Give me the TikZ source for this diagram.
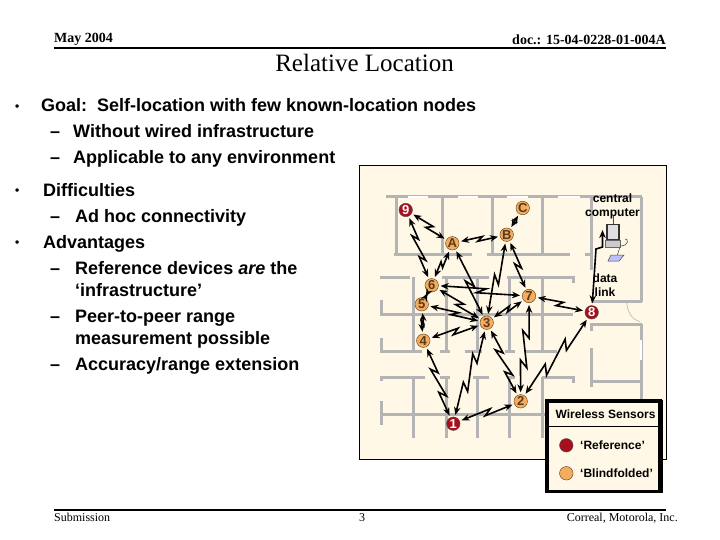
\documentclass[tikz,border=0pt]{standalone}
\usepackage{fontspec}
\setmainfont{Liberation Serif}
\setsansfont{Liberation Sans}
\usetikzlibrary{arrows.meta,calc}
\definecolor{paper}{HTML}{FFF8E6}
\definecolor{wallgray}{HTML}{B4B4B4}
\definecolor{refred}{HTML}{A80F1E}
\definecolor{blindorange}{HTML}{F4AC5E}
\definecolor{nodeedge}{HTML}{5A3A1A}
\tikzset{
  wall/.style={draw=wallgray, line width=3pt},
  pane/.style={draw=white, line width=2.4pt},
  refnode/.style={
    circle, draw=black!70, fill=refred, text=white, inner sep=0pt,
    minimum size=13.5pt, font=\sffamily\bfseries\fontsize{13}{13}\selectfont
  },
  blindnode/.style={
    circle, draw=nodeedge, fill=blindorange, text=nodeedge, inner sep=0pt,
    minimum size=13.5pt, font=\sffamily\bfseries\fontsize{13}{13}\selectfont
  },
  link/.style={
    {Stealth[length=8pt,width=6.5pt]}-{Stealth[length=8pt,width=6.5pt]},
    line width=1.6pt, draw=black, miter limit=6, shorten >=2pt, shorten <=2pt
  },
  zap/.style={link, to path={
    -- ($(\tikztostart)!0.56!(\tikztotarget)!#1!90:(\tikztotarget)$)
    -- ($(\tikztostart)!0.46!(\tikztotarget)!-#1!90:(\tikztotarget)$)
    -- (\tikztotarget)}},
  zapp/.style={link, to path={
    -- ($(\tikztostart)!0.40!(\tikztotarget)!#1!90:(\tikztotarget)$)
    -- ($(\tikztostart)!0.33!(\tikztotarget)!-#1!90:(\tikztotarget)$)
    -- ($(\tikztostart)!0.68!(\tikztotarget)!#1!90:(\tikztotarget)$)
    -- ($(\tikztostart)!0.61!(\tikztotarget)!-#1!90:(\tikztotarget)$)
    -- (\tikztotarget)}},
  head/.style={anchor=base west, font=\bfseries\fontsize{14}{14}\selectfont, inner sep=0pt},
  foot/.style={anchor=base west, font=\fontsize{12}{12}\selectfont, inner sep=0pt},
  body/.style={anchor=base west, font=\sffamily\bfseries\fontsize{18}{18}\selectfont, inner sep=0pt},
  dot/.style={anchor=base west, font=\sffamily\bfseries\fontsize{12}{12}\selectfont, inner sep=0pt},
  note/.style={align=center, font=\sffamily\bfseries\fontsize{12}{14}\selectfont, inner sep=0pt},
  key/.style={anchor=west, font=\sffamily\bfseries\fontsize{12}{12}\selectfont, inner sep=0pt}
}
\begin{document}
\begin{tikzpicture}[x=1pt,y=-1pt]
  \useasboundingbox (0,0) rectangle (720,540);
  % header and footer
  \node[head] (date) at (54,43) {May 2004};
  \node[head, anchor=base east] (doc) at (666,45) {doc.: 15-04-0228-01-004A};
  \draw[line width=2pt] (54,48) -- (666,48);
  \node[anchor=base, inner sep=0pt, font=\fontsize{25}{25}\selectfont] (title) at (364.5,72) {Relative Location};
  \draw[line width=2pt] (54,510) -- (666,510);
  \node[foot] (sub) at (54,521) {Submission};
  \node[foot] (page) at (359,521) {3};
  \node[foot, anchor=base east] (who) at (678,521) {Correal, Motorola, Inc.};
  % text column
  \node[dot] (b1) at (15,110.5) {•};
  \node[body] (t1) at (41,111.5) {Goal:\ \ Self-location with few known-location nodes};
  \node[body] (d1) at (50,137.5) {–};
  \node[body] (t2) at (73,137.5) {Without wired infrastructure};
  \node[body] (d2) at (50,163.5) {–};
  \node[body] (t3) at (73,163.5) {Applicable to any environment};
  \node[dot] (b2) at (15,194.5) {•};
  \node[body] (t4) at (43,196.5) {Difficulties};
  \node[body] (d3) at (50,222.5) {–};
  \node[body] (t5) at (75,222.5) {Ad hoc connectivity};
  \node[dot] (b3) at (15,246.5) {•};
  \node[body] (t6) at (43,248.5) {Advantages};
  \node[body] (d4) at (50,274.5) {–};
  \node[body] (t7) at (75,274.5) {Reference devices \textit{are} the};
  \node[body] (t8) at (75,296.5) {‘infrastructure’};
  \node[body] (d5) at (50,322.5) {–};
  \node[body] (t9) at (75,322.5) {Peer-to-peer range};
  \node[body] (t10) at (75,344.5) {measurement possible};
  \node[body] (d6) at (50,370.5) {–};
  \node[body] (t11) at (75,370.5) {Accuracy/range extension};
  % floor plan
  \fill[paper, draw=black, line width=0.7pt] (359.5,165) rectangle (666,459);
  \foreach \xa/\ya/\xb/\yb in {
    386/197/642/197, 396/197/396/255, 442/197/442/255, 492/197/492/255,
    542/197/542/255, 591/197/591/270, 641/197/641/302, 394/254/472/254,
    487/254/570/254, 585/254/592/254, 591/301/642/301,
    380/277/410/277, 442/277/489/277, 507/277/573/277, 573/276/573/283,
    381/300/381/316, 380/314/573/314, 413/277/413/352, 446/277/446/352,
    477/277/477/352, 509/277/509/352, 542/277/542/352,
    381/338/381/352, 380/351/422/351, 440/351/450/351, 465/351/482/351,
    505/351/515/351, 525/351/557/351,
    380/377/425/377, 440/377/450/377, 473/377/489/377, 507/377/515/377,
    542/377/573/377, 573/376/573/383, 381/377/381/381, 381/401/381/425,
    380/414/546/414, 413/377/413/438, 446/377/446/438, 477/377/477/438,
    509/377/509/438, 542/377/542/438,
    590/324/642/324, 641/324/641/400, 591/323/591/331, 591/348/591/387,
    591/381/641/381}
    \draw[wall] (\xa,\ya) -- (\xb,\yb);
  \foreach \xa/\ya/\xb/\yb in {
    408/197/428/197, 458/197/478/197, 507/197/528/197, 558/197/580/197, 641/340/641/360}
    \draw[pane] (\xa,\ya) -- (\xb,\yb);
  \draw[wallgray, line width=0.6pt] (626.7,303) .. controls (628,314) and (633,320) .. (640,321.7);
  % computer
  \node[draw=black!80, fill=black!12, minimum width=12pt, minimum height=15pt, inner sep=0pt, line width=1.6pt] (pc) at (613,232) {};
  \draw[fill=wallgray!70, draw=black!60, line width=0.5pt] (605.5,240.5) rectangle (620,247);
  \draw[black!70, line width=0.6pt] (613,216) -- (pc.north);
  \draw[black!70, line width=0.6pt] (620,246) .. controls (630,246) and (628,238) .. (625,239);
  \draw[black!70, line width=0.6pt] (620,247) -- (617,256);
  \draw[black!70, fill=blue!25, line width=0.5pt] (611,255) -- (624,255) -- (619,261) -- (608,261) -- cycle;
  % nodes of the network
  \node[refnode] (n9) at (405.7,210) {9};
  \node[blindnode] (nC) at (522.7,208) {C};
  \node[blindnode] (nB) at (506.7,234.7) {B};
  \node[blindnode] (nA) at (452.3,243.3) {A};
  \node[blindnode] (n6) at (431.7,285.3) {6};
  \node[blindnode] (n5) at (421.7,304.3) {5};
  \node[blindnode] (n3) at (486.7,322.7) {3};
  \node[blindnode] (n7) at (529,296) {7};
  \node[refnode] (n8) at (591.7,312.3) {8};
  \node[blindnode] (n4) at (423.3,340.7) {4};
  \node[refnode] (n1) at (453.3,423.7) {1};
  \node[blindnode] (n2) at (520.7,401.3) {2};
  % links
  \draw[zap=2.5pt] (n9) to (nA);
  \draw[zapp=2.5pt] (n9) to (n6);
  \draw[zap=2pt] (nA) to (n6);
  \draw[zap=2pt] (nA) to (nB);
  \draw[link] (nC) -- (nB);
  \draw[zap=2.5pt] (nB) to (n7);
  \draw[zap=3pt] (nB) to (n3);
  \draw[zap=3pt] (nA) to (n3);
  \draw[zap=2.5pt] (n6) to (n3);
  \draw[zap=2.5pt] (n6) to (n7);
  \draw[link] (n6) -- (n5);
  \draw[zap=2pt] (n5) to (n3);
  \draw[zap=1pt] (n5) to (n4);
  \draw[zap=2.5pt] (n4) to (n3);
  \draw[zap=2pt] (n3) to (n7);
  \draw[zapp=3pt] (n4) to (n1);
  \draw[zapp=3.5pt] (n1) to (n3);
  \draw[zap=2.5pt] (n1) to (n2);
  \draw[zapp=3pt] (n3) to (n2);
  \draw[zapp=3.5pt] (n7) to (n2);
  \draw[zap=2.5pt] (n8) to (n7);
  \draw[zapp=4pt] (n8) to (n2);
  \coordinate (jogA) at (596,249);
  \coordinate (jogB) at (602.5,247);
  \coordinate (pcin) at (602.5,228);
  \draw[link] (n8) -- (jogA) -- (jogB) -- (pcin);
  \node[note] (central) at (612.5,206.5) {central\\computer};
  \node[note] (datalink) at (605,285) {data\\link};
  % legend
  \draw[draw=black, line width=0.6pt] (662.7,399.5) -- (662.7,493.3);
  \draw[fill=paper, draw=black, line width=3.6pt] (547.2,401.2) rectangle (660.2,491.4);
  \node[font=\sffamily\bfseries\fontsize{12}{12}\selectfont, inner sep=0pt] (ltitle) at (605.5,414.5) {Wireless Sensors};
  \draw[line width=0.6pt] (549,426.7) -- (659,426.7);
  \node[refnode] (lref) at (566.3,445.3) {};
  \node[key] (lreft) at (580,445.3) {‘Reference’};
  \node[blindnode] (lblind) at (566.3,473.3) {};
  \node[key] (lblindt) at (580,473.3) {‘Blindfolded’};
\end{tikzpicture}
\end{document}
